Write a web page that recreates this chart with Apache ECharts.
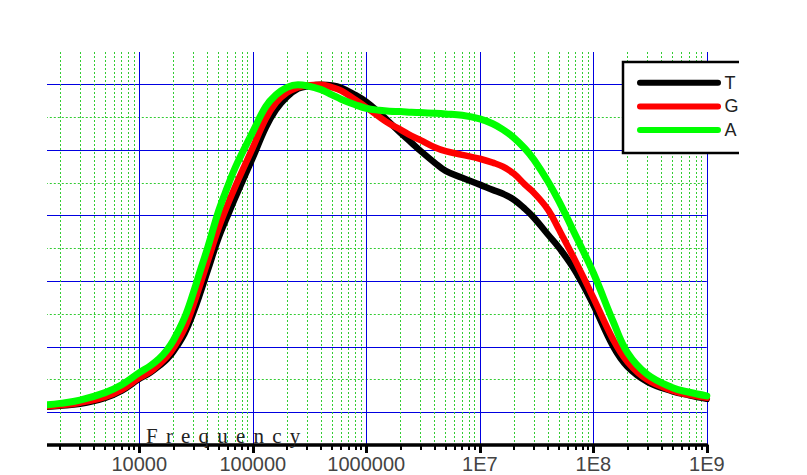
<!DOCTYPE html>
<html><head><meta charset="utf-8">
<script src="https://cdn.jsdelivr.net/npm/echarts@6/dist/echarts.min.js"></script>
<style>html,body{margin:0;padding:0;background:#fff}#c{width:807px;height:475px}</style>
</head><body><div id="c"></div>
<script>
// Frequency samples (Hz)
const freq = [1.55e3, 2e3, 3e3, 5e3, 7e3, 1e4, 1.25e4, 1.5e4, 1.75e4, 2e4, 2.5e4, 3e4, 3.5e4, 4e4, 5e4, 6e4, 7e4, 1e5, 1.3e5, 1.6e5, 2e5, 2.5e5, 3e5, 4e5, 5e5, 6e5, 8e5, 1e6, 1.3e6, 1.6e6, 2e6, 2.5e6, 3e6, 4e6, 5e6, 7e6, 1e7, 1.3e7, 1.6e7, 2e7, 2.5e7, 3e7, 4e7, 5e7, 7e7, 1e8, 1.5e8, 2e8, 3e8, 5e8, 7e8, 1e9];
// Normalised responses
const valuesT = [0.017, 0.020, 0.026, 0.044, 0.066, 0.102, 0.121, 0.142, 0.162, 0.186, 0.240, 0.305, 0.371, 0.432, 0.533, 0.600, 0.655, 0.777, 0.869, 0.924, 0.963, 0.988, 0.995, 1.000, 0.998, 0.991, 0.969, 0.948, 0.915, 0.885, 0.853, 0.823, 0.798, 0.762, 0.737, 0.716, 0.695, 0.679, 0.667, 0.649, 0.621, 0.594, 0.542, 0.502, 0.429, 0.328, 0.200, 0.139, 0.093, 0.064, 0.052, 0.041];
const valuesG = [0.018, 0.021, 0.029, 0.047, 0.069, 0.105, 0.124, 0.147, 0.170, 0.196, 0.255, 0.328, 0.398, 0.460, 0.563, 0.634, 0.689, 0.808, 0.896, 0.945, 0.976, 0.992, 0.998, 1.000, 0.992, 0.982, 0.954, 0.931, 0.902, 0.881, 0.863, 0.844, 0.831, 0.809, 0.797, 0.786, 0.774, 0.762, 0.750, 0.728, 0.695, 0.670, 0.618, 0.557, 0.460, 0.350, 0.221, 0.154, 0.099, 0.066, 0.053, 0.044];
const valuesA = [0.023, 0.027, 0.037, 0.060, 0.084, 0.121, 0.142, 0.164, 0.190, 0.220, 0.288, 0.366, 0.440, 0.502, 0.615, 0.689, 0.747, 0.856, 0.933, 0.969, 0.992, 1.000, 0.997, 0.985, 0.969, 0.956, 0.939, 0.928, 0.922, 0.919, 0.918, 0.916, 0.915, 0.913, 0.911, 0.907, 0.896, 0.881, 0.863, 0.838, 0.805, 0.771, 0.704, 0.643, 0.539, 0.426, 0.276, 0.182, 0.115, 0.075, 0.061, 0.050];
const seriesNames = ['T', 'G', 'A'];
const seriesColors = ['#000000', '#ff0000', '#00ff00'];
const tickExponents = [4, 5, 6, 7, 8, 9];
const tickLabels = ['10000', '100000', '1000000', '1E7', '1E8', '1E9'];
const axisTitle = 'Frequency';

const chart = echarts.init(document.getElementById('c'), null, {renderer: 'svg'});
const allValues = [valuesT, valuesG, valuesA];
const capsule = 'path://M3,0L81,0A3,3,0,0,1,81,6L3,6A3,3,0,0,1,3,0Z';
const gridGreen = '#33cc33';
const gridBlue = '#0000e0';

chart.setOption({
  animation: false,
  backgroundColor: '#ffffff',
  grid: {left: 25.8, right: 100.2, top: 52, bottom: 30, containLabel: false, outerBoundsMode: 'none'},
  xAxis: {
    type: 'log', logBase: 10, min: 1e3, max: 1e9, splitNumber: 6,
    axisLine: {show: true, onZero: false, lineStyle: {color: '#000', width: 3.5}},
    axisTick: {show: true, length: 8, lineStyle: {color: '#000', width: 3}},
    minorTick: {show: true, splitNumber: 9, length: 5, lineStyle: {color: '#000', width: 2}},
    splitLine: {show: true, lineStyle: {color: gridBlue, width: 1}},
    minorSplitLine: {show: true, lineStyle: {color: gridGreen, width: 1, type: [2, 2]}},
    axisLabel: {
      margin: 9, fontSize: 20, lineHeight: 20, color: '#444', fontFamily: 'Liberation Sans, Arial, sans-serif',
      formatter: function (v) {
        const e = Math.round(Math.log10(v));
        const i = tickExponents.indexOf(e);
        return i >= 0 ? tickLabels[i] : '';
      }
    }
  },
  yAxis: [
    {type: 'value', min: -0.1, max: 1.1, show: false, splitLine: {show: false}},
    {type: 'value', min: 0, max: 1.2, interval: 0.2, position: 'left',
     axisLine: {show: false, onZero: false}, axisTick: {show: false}, axisLabel: {show: false},
     splitLine: {show: true, showMinLine: false, showMaxLine: false, lineStyle: {color: gridGreen, width: 1, type: [2, 2]}},
     minorTick: {show: false, splitNumber: 2},
     minorSplitLine: {show: true, lineStyle: {color: gridBlue, width: 1}}}
  ],
  legend: {
    data: seriesNames, orient: 'vertical', left: 637, top: 73.7, padding: 0,
    itemWidth: 85, itemHeight: 6, itemGap: 5.7, icon: capsule, z: 10,
    textStyle: {fontSize: 18, lineHeight: 18, color: '#222', fontFamily: 'Liberation Sans, Arial, sans-serif', padding: [0, 0, 0, -2]}
  },
  graphic: [
    {type: 'rect', z: 50, shape: {x: 0, y: 0, width: 47, height: 475}, style: {fill: '#ffffff'}},
    {type: 'rect', z: 5, shape: {x: 623, y: 62, width: 130, height: 91}, style: {fill: '#ffffff'}},
    {type: 'polyline', z: 6, shape: {points: [[739, 62], [623, 62], [623, 153], [739, 153]]}, style: {stroke: '#000', lineWidth: 2.5, fill: null}},
    {type: 'text', z: 20, style: {text: axisTitle, x: 146, y: 436, verticalAlign: 'middle', fontSize: 21, fontFamily: 'Liberation Serif, Times New Roman, serif', fill: '#222'}}
  ],
  series: seriesNames.map(function (name, k) {
    return {
      name: name, type: 'line', yAxisIndex: 0, showSymbol: false, smooth: 0.4, z: 2 + k,
      lineStyle: {color: seriesColors[k], width: k === 2 ? 7 : 6.5, cap: 'round', join: 'round'},
      itemStyle: {color: seriesColors[k]},
      data: freq.map(function (f, i) { return [f, allValues[k][i]]; })
    };
  })
});

function spaceTitle() {
  document.querySelectorAll('#c text').forEach(function (t) {
    if (t.textContent === axisTitle) t.setAttribute('letter-spacing', '8.2');
  });
}
chart.on('finished', spaceTitle);
spaceTitle();
setTimeout(spaceTitle, 30);
</script>
</body></html>
